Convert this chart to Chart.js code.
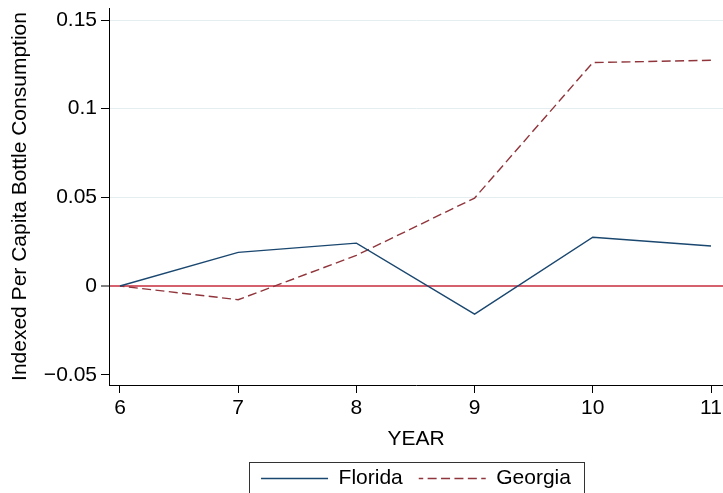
<!DOCTYPE html>
<html lang="en">
<head>
<meta charset="UTF-8">
<title>Indexed Per Capita Bottle Consumption</title>
<script src="https://cdn.jsdelivr.net/npm/chart.js"></script>
<style>
  body { margin: 0; background: #fff; }
  canvas { display: block; }
</style>
</head>
<body>
<canvas id="chart" width="723" height="493"></canvas>
<script>
// data
const years = [6, 7, 8, 9, 10, 11];
const florida = [0, 0.0190, 0.0242, -0.0158, 0.0275, 0.0226];
const georgia = [0, -0.0077, 0.0173, 0.0496, 0.1260, 0.1273];

const yTickValues = [-0.05, 0, 0.05, 0.1, 0.15];
const yTickLabels = ['\u22120.05', '0', '0.05', '0.1', '0.15'];
const xTickValues = [6, 7, 8, 9, 10, 11];

const FONT = "'Liberation Sans', Arial, sans-serif";

function toPoints(xs, ys) {
    return xs.map((x, i) => ({x: x, y: ys[i]}));
}

// box around the legend, like the stata one
const legendFrame = {
    id: 'legendFrame',
    afterDraw(chart) {
        const boxes = chart.legend.legendHitBoxes;
        if (!boxes || !boxes.length) return;
        const first = boxes[0], last = boxes[boxes.length - 1];
        const ctx = chart.ctx;
        const l = first.left - 12, r = last.left + last.width + 13;
        const t = first.top - 6;
        ctx.save();
        ctx.strokeStyle = '#333';
        ctx.lineWidth = 1;
        ctx.strokeRect(Math.round(l) + 0.5, Math.round(t) + 0.5, Math.round(r - l), 60);
        ctx.restore();
    }
};

new Chart(document.getElementById('chart').getContext('2d'), {
    type: 'scatter',
    data: {
        datasets: [
            {
                label: 'Florida',
                data: toPoints(years, florida),
                showLine: true,
                borderColor: '#1a476f',
                backgroundColor: '#1a476f',
                borderWidth: 1.4,
                pointRadius: 0,
                tension: 0
            },
            {
                label: 'Georgia',
                data: toPoints(years, georgia),
                showLine: true,
                borderColor: '#90353b',
                backgroundColor: '#90353b',
                borderWidth: 1.4,
                // period 13.4 fits twice into the 67px legend sample, offset keeps it dashed
                borderDash: [9, 4.4],
                borderDashOffset: 4.5,
                pointRadius: 0,
                tension: 0
            }
        ]
    },
    options: {
        responsive: false,
        animation: false,
        devicePixelRatio: 1,
        layout: { padding: { left: 0, right: 0, top: 8, bottom: -6 } },
        plugins: {
            tooltip: { enabled: false },
            legend: {
                position: 'bottom',
                fullSize: false,
                labels: {
                    boxWidth: 67,
                    boxHeight: 0,
                    padding: 16,
                    color: '#000',
                    font: { family: FONT, size: 21 }
                }
            }
        },
        scales: {
            x: {
                type: 'linear',
                min: 5.907,
                max: 11.1015,
                afterBuildTicks: s => { s.ticks = xTickValues.map(v => ({value: v})); },
                afterFit: s => { s.height = 67; s.paddingLeft = 0; s.paddingRight = 0; },
                ticks: {
                    color: '#000',
                    padding: 3,
                    maxRotation: 0,
                    font: { family: FONT, size: 21 },
                    callback: v => String(v)
                },
                grid: {
                    display: true,
                    drawOnChartArea: false,
                    drawTicks: true,
                    tickLength: 8,
                    tickColor: '#000',
                    tickWidth: 1
                },
                border: { display: true, color: '#000', width: 1 },
                title: {
                    display: true,
                    text: 'YEAR',
                    color: '#000',
                    font: { family: FONT, size: 21 },
                    padding: { top: 0, bottom: 0 }
                }
            },
            y: {
                type: 'linear',
                min: -0.0558,
                max: 0.15677,
                afterBuildTicks: s => { s.ticks = yTickValues.map(v => ({value: v})); },
                afterFit: s => { s.width = 109; s.paddingTop = 0; s.paddingBottom = 0; },
                ticks: {
                    color: '#000',
                    padding: 4,
                    font: { family: FONT, size: 21 },
                    callback: v => {
                        const i = yTickValues.findIndex(t => Math.abs(t - v) < 1e-9);
                        return i >= 0 ? yTickLabels[i] : '';
                    }
                },
                grid: {
                    drawTicks: true,
                    tickLength: 8,
                    tickColor: '#000',
                    tickWidth: 1,
                    color: c => {
                        const v = c.tick ? c.tick.value : null;
                        if (v === 0) return '#d5606e';
                        if (v !== null && v < 0) return 'rgba(0,0,0,0)';
                        return '#e4eef0';
                    },
                    lineWidth: c => (c.tick && c.tick.value === 0) ? 2 : 1
                },
                border: { display: true, color: '#000', width: 1 },
                title: {
                    display: true,
                    text: 'Indexed Per Capita Bottle Consumption',
                    color: '#000',
                    font: { family: FONT, size: 21 },
                    padding: { top: 8, bottom: 0 }
                }
            }
        }
    },
    plugins: [legendFrame]
});
</script>
</body>
</html>
